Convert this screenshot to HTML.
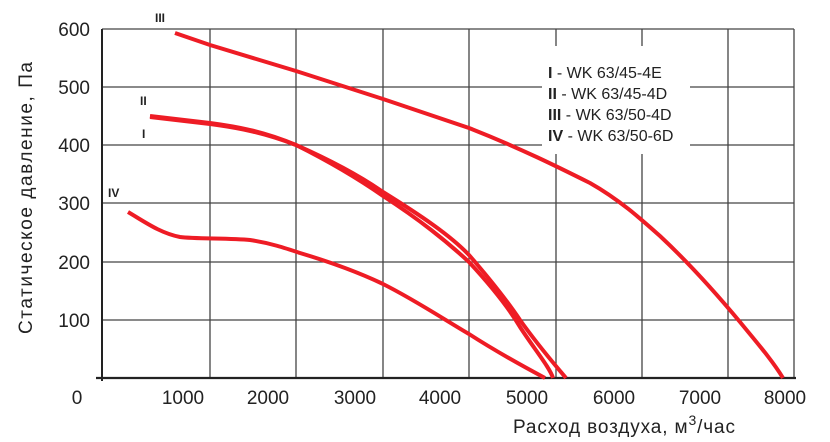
<!DOCTYPE html>
<html><head><meta charset="utf-8"><style>
body{margin:0;background:#fff;width:830px;height:442px;overflow:hidden}
svg{display:block}
text{font-family:"Liberation Sans",sans-serif;fill:#222}
</style></head><body>
<svg width="830" height="442" viewBox="0 0 830 442">
<g stroke="#444" stroke-width="1.3">
<line x1="102" y1="29" x2="794" y2="29"/>
<line x1="102" y1="87" x2="794" y2="87"/>
<line x1="102" y1="145" x2="794" y2="145"/>
<line x1="102" y1="203" x2="794" y2="203"/>
<line x1="102" y1="262" x2="794" y2="262"/>
<line x1="102" y1="320" x2="794" y2="320"/>
<line x1="210" y1="29" x2="210" y2="378"/>
<line x1="296" y1="29" x2="296" y2="378"/>
<line x1="383" y1="29" x2="383" y2="378"/>
<line x1="469" y1="29" x2="469" y2="378"/>
<line x1="556" y1="29" x2="556" y2="378"/>
<line x1="642" y1="29" x2="642" y2="378"/>
<line x1="728" y1="29" x2="728" y2="378"/>
<line x1="794" y1="29" x2="794" y2="378"/>
</g>
<line x1="102" y1="29" x2="102" y2="381" stroke="#222" stroke-width="2"/>
<line x1="96" y1="378" x2="796" y2="378" stroke="#222" stroke-width="2.2"/>
<rect x="542" y="46" width="148" height="108" fill="#fff"/>
<g fill="none" stroke="#ee1c25" stroke-width="4" stroke-linecap="butt">
<path d="M175,33 L210,45 L296,71 L383,99 L469,128 C520,148 560,168 590,183 C620,200 642,220 660,236 C690,264 720,298 740,322 C758,344 772,360 783,378"/>
<path d="M150,117 L210,124 C240,128 265,133 296,145 C330,162 360,180 383,196 C420,220 445,240 469,262 C495,290 510,310 520,327 C535,350 550,368 553,378"/>
<path d="M150,116 L210,123 C240,127 265,132 296,145 C330,160 360,176 383,192 C420,215 450,235 469,255 C495,285 510,305 520,320 C540,348 556,366 566,378"/>
<path d="M128,212 C145,222 160,233 180,237 C195,239 230,238 250,240 C270,243 285,248 300,253 C330,262 360,273 383,284 C415,300 445,320 469,334 C500,354 530,370 545,378"/>
</g>
<g font-size="19" text-anchor="end">
<text x="90" y="36">600</text>
<text x="90" y="94">500</text>
<text x="90" y="152">400</text>
<text x="90" y="210">300</text>
<text x="90" y="269">200</text>
<text x="90" y="327">100</text>
</g>
<g font-size="19" text-anchor="middle">
<text x="77" y="404">0</text>
<text x="183" y="404">1000</text>
<text x="268" y="404">2000</text>
<text x="355" y="404">3000</text>
<text x="440" y="404">4000</text>
<text x="527" y="404">5000</text>
<text x="614" y="404">6000</text>
<text x="700" y="404">7000</text>
<text x="785" y="404">8000</text>
</g>
<text x="513" y="433" font-size="19" textLength="222">Расход воздуха, м<tspan font-size="14" dy="-8">3</tspan><tspan dy="8">/час</tspan></text>
<text transform="translate(32,198) rotate(-90)" font-size="19" text-anchor="middle" textLength="272">Статическое давление, Па</text>
<g font-size="12" font-weight="bold">
<text x="155" y="22">III</text>
<text x="140" y="105">II</text>
<text x="142" y="138">I</text>
<text x="108" y="197">IV</text>
</g>
<g font-size="16">
<text x="548" y="78"><tspan font-weight="bold">I</tspan>   - WK 63/45-4E</text>
<text x="548" y="99"><tspan font-weight="bold">II</tspan>  - WK 63/45-4D</text>
<text x="548" y="120"><tspan font-weight="bold">III</tspan> - WK 63/50-4D</text>
<text x="548" y="141"><tspan font-weight="bold">IV</tspan> - WK 63/50-6D</text>
</g>
</svg>
</body></html>
